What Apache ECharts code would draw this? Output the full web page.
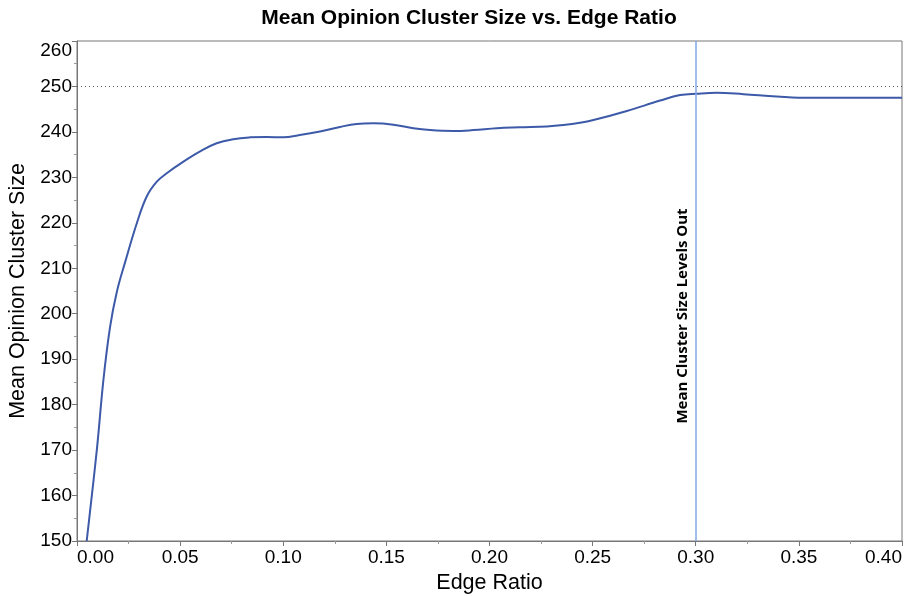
<!DOCTYPE html>
<html>
<head>
    <meta charset="utf-8">
    <title>Mean Opinion Cluster Size vs. Edge Ratio</title>
    <script src="https://cdn.jsdelivr.net/npm/echarts@6/dist/echarts.min.js"></script>
    <style>
        html, body { margin: 0; padding: 0; background: #fff; }
        #main { width: 914px; height: 596px; }
    </style>
</head>
<body>
<div id="main"></div>
<script>
// values
var edgeRatio = [0.0047, 0.0096, 0.0128, 0.016, 0.0193, 0.0233, 0.029, 0.0338, 0.0387, 0.0435,
    0.0516, 0.0597, 0.0677, 0.0758, 0.0839, 0.092, 0.1, 0.108, 0.1178, 0.1275,
    0.1356, 0.1437, 0.1534, 0.1631, 0.1712, 0.1825, 0.1922, 0.2035, 0.2148, 0.2278,
    0.2358, 0.2439, 0.2504, 0.2666, 0.2827, 0.2924, 0.3005, 0.3102, 0.3231, 0.3393,
    0.3555, 0.3716, 0.3878, 0.4];
var clusterSize = [150, 170, 185.4, 197, 204.8, 211.3, 219.9, 225.8, 229.05, 230.9,
    233.45, 235.7, 237.5, 238.4, 238.8, 238.9, 238.8, 239.3, 240.1, 241.1,
    241.75, 241.9, 241.6, 240.8, 240.4, 240.2, 240.4, 240.8, 241.0, 241.2,
    241.5, 242.0, 242.6, 244.6, 246.9, 248.1, 248.4, 248.6, 248.3, 247.8,
    247.5, 247.5, 247.5, 247.5];
var refLevel = 250;
var levelOutRatio = 0.30;
var levelOutText = 'Mean Cluster Size Levels Out';
var labelSpan = [150, 249]; // span along the marker line the label is centred on

var points = edgeRatio.map(function (x, i) { return [x, clusterSize[i]]; });

var chart = echarts.init(document.getElementById('main'));
var font = 'Liberation Sans, Arial, sans-serif';

option = {
    animation: false,
    title: {
        text: 'Mean Opinion Cluster Size vs. Edge Ratio',
        left: 464,
        top: 3,
        textAlign: 'center',
        textStyle: { fontFamily: font, fontSize: 21, fontWeight: 'bold', color: '#000' }
    },
    grid: {
        left: 77, right: 12, top: 41, bottom: 55,
        outerBoundsMode: 'none',
        containLabel: false,
        show: true,
        borderColor: '#777',
        borderWidth: 1
    },
    xAxis: {
        type: 'value',
        min: 0, max: 0.4, interval: 0.05,
        name: 'Edge Ratio',
        nameLocation: 'middle',
        nameGap: 30,
        nameTextStyle: { fontFamily: font, fontSize: 21.5, color: '#000' },
        axisLine: { onZero: false, lineStyle: { color: '#777' } },
        axisTick: { length: 5, lineStyle: { color: '#777' } },
        minorTick: { show: true, splitNumber: 2, length: 3, lineStyle: { color: '#999' } },
        splitLine: { show: false },
        axisLabel: {
            margin: 7,
            alignMinLabel: 'left',
            alignMaxLabel: 'right',
            fontFamily: font, fontSize: 19, color: '#000',
            formatter: function (v) { return v.toFixed(2); }
        }
    },
    yAxis: {
        type: 'value',
        min: 150, max: 260, interval: 10,
        name: 'Mean Opinion Cluster Size',
        nameLocation: 'middle',
        nameGap: 48,
        nameTextStyle: { fontFamily: font, fontSize: 21.5, color: '#000' },
        axisLine: { show: true, lineStyle: { color: '#777' } },
        axisTick: { show: true, length: 5, lineStyle: { color: '#777' } },
        minorTick: { show: true, splitNumber: 2, length: 3, lineStyle: { color: '#999' } },
        splitLine: { show: false },
        axisLabel: {
            margin: 5,
            verticalAlignMaxLabel: 'top',
            fontFamily: font, fontSize: 19, color: '#000'
        }
    },
    series: [{
        name: 'Mean Opinion Cluster Size',
        type: 'line',
        data: points,
        smooth: 0.4,
        showSymbol: false,
        clip: true,
        lineStyle: { color: '#3d5aa9', width: 2 },
        markLine: {
            silent: true,
            symbol: 'none',
            animation: false,
            data: [
                {
                    yAxis: refLevel,
                    label: { show: false },
                    lineStyle: { color: '#555', type: [1, 3], width: 1 }
                },
                {
                    xAxis: levelOutRatio,
                    label: { show: false },
                    lineStyle: { color: '#7fa8e4', type: 'solid', width: 1.5 }
                },
                [
                    {
                        coord: [levelOutRatio, labelSpan[0]],
                        lineStyle: { color: 'rgba(0,0,0,0)', width: 0 },
                        label: {
                            show: true,
                            formatter: levelOutText,
                            position: 'insideMiddleTop',
                            distance: 6,
                            fontFamily: 'Open Sans, sans-serif',
                            fontWeight: 'bold',
                            fontSize: 15,
                            color: '#000'
                        }
                    },
                    { coord: [levelOutRatio, labelSpan[1]] }
                ]
            ]
        }
    }]
};
chart.setOption(option);
</script>
</body>
</html>
